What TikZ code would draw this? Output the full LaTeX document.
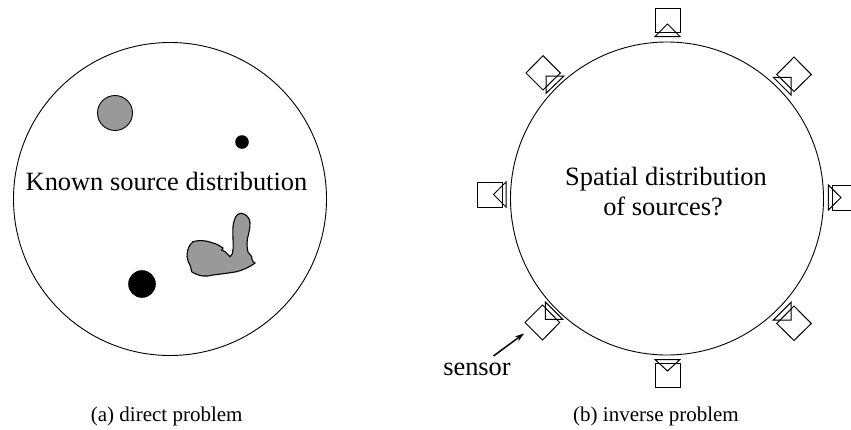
\documentclass[tikz,border=0pt]{standalone}
\usepackage{fontspec}
\setmainfont{Liberation Serif}
\usetikzlibrary{arrows.meta}
\tikzset{
  outline/.style={draw=black,line width=0.9pt},
  part/.style={draw=black,line width=1pt,line join=miter},
  bigtext/.style={font=\fontsize{26.4}{31}\selectfont,inner sep=0pt,anchor=base},
  captext/.style={font=\fontsize{21}{25}\selectfont,inner sep=0pt,anchor=base},
  pointer/.style={draw=black,line width=1.5pt,-{Stealth[length=9pt,width=6pt]}}
}
\begin{document}
\begin{tikzpicture}[x=1pt,y=-1pt]
\useasboundingbox (0,0) rectangle (851,429);
\clip (0,0) rectangle (851,429);
% (a) direct problem
\draw[outline] (170,199) circle[radius=156.5];
\draw[outline,fill=black!40] (115,113) circle[radius=17.5];
\fill (242,142) circle[radius=6.8];
\fill (142,284) circle[radius=13.8];
\draw[outline,line width=1.1pt,fill=black!40]
  (193,241.7) .. controls (196,240.7) and (200,240.5) .. (203,240.7)
  .. controls (207,241) and (210,242) .. (213,243)
  .. controls (217,244) and (220,246) .. (223,248)
  .. controls (223,249) and (222,250) .. (221.7,250)
  .. controls (223,250) and (224,251) .. (225,251.7)
  .. controls (227,253) and (229,256) .. (230,256.7)
  .. controls (232,255) and (233,253) .. (233,250)
  .. controls (233.5,243) and (232.5,234) .. (233,226.7)
  .. controls (234,219) and (236,213.5) .. (240.7,213.3)
  .. controls (246,213.5) and (250,218) .. (250,223)
  .. controls (250.5,230) and (247,237) .. (247,243)
  .. controls (247,247) and (247.5,250) .. (248,252)
  .. controls (249,254) and (251,255) .. (251.7,256.7)
  .. controls (251.5,259) and (252,261) .. (255,263)
  .. controls (250,267) and (243,270) .. (236.7,271.7)
  .. controls (229,273) and (221,274) .. (213,275)
  .. controls (209,276) and (206,276.3) .. (203,276)
  .. controls (199,275.5) and (195,274) .. (191.7,271.7)
  .. controls (191,270) and (191,268) .. (190.7,266.7)
  .. controls (189,263) and (187,260) .. (187,256.7)
  .. controls (187,252) and (188,248) .. (190,245)
  .. controls (191,243.5) and (192,242.5) .. (193,241.7) -- cycle;
\node[bigtext] (knownlabel) at (166.5,190.7) {Known source distribution};
\node[captext] (captiona) at (166.7,421.7) {(a) direct problem};
% (b) inverse problem
\draw[outline] (667,198.5) circle[radius=156.5];
\node[bigtext] (spatiallabel) at (666,185.7) {Spatial distribution};
\node[bigtext] (sourceslabel) at (663,215.7) {of sources?};
% top sensor
\draw[part] (655,8) rectangle (680,32.5);
\draw[part] (667.5,24) -- (680,36.5) -- (655,36.5) -- cycle;
% bottom sensor
\draw[part] (655,363) rectangle (680,387.5);
\draw[part] (667.5,371) -- (680,359.5) -- (655,359.5) -- cycle;
% right sensor
\draw[part] (832,185) rectangle (858,210);
\draw[part] (841,197.5) -- (828.3,210) -- (828.3,185) -- cycle;
% left sensor
\draw[part] (477.5,182) rectangle (502.5,207);
\draw[part] (493.5,194.5) -- (506,207) -- (506,182) -- cycle;
% top right
\draw[part] (794,57) -- (811.3,74.5) -- (794,91.5) -- (776.7,74.5) -- cycle;
\draw[part] (791,77.3) -- (773.3,77.3) -- (791,95) -- cycle;
% top left
\draw[part] (543,55.7) -- (560.3,73) -- (543,90) -- (526,73) -- cycle;
\draw[part] (546,76) -- (564,76) -- (546,93.3) -- cycle;
% bottom right
\draw[part] (794,306) -- (811.3,323.5) -- (794,340.5) -- (776.7,323.5) -- cycle;
\draw[part] (791,320) -- (791,302.3) -- (773.3,320) -- cycle;
% bottom left
\draw[part] (542.5,305) -- (559.7,322.5) -- (542.5,340) -- (525,322.5) -- cycle;
\draw[part] (545.3,319.3) -- (545.3,302) -- (562.7,319.3) -- cycle;
% sensor label
\node[bigtext] (sensorlabel) at (477,375) {sensor};
\coordinate (arrowstart) at (493.5,356);
\coordinate (arrowend) at (524,333.5);
\draw[pointer] (arrowstart) -- (arrowend);
\node[captext] (captionb) at (656,421.7) {(b) inverse problem};
\end{tikzpicture}
\end{document}
